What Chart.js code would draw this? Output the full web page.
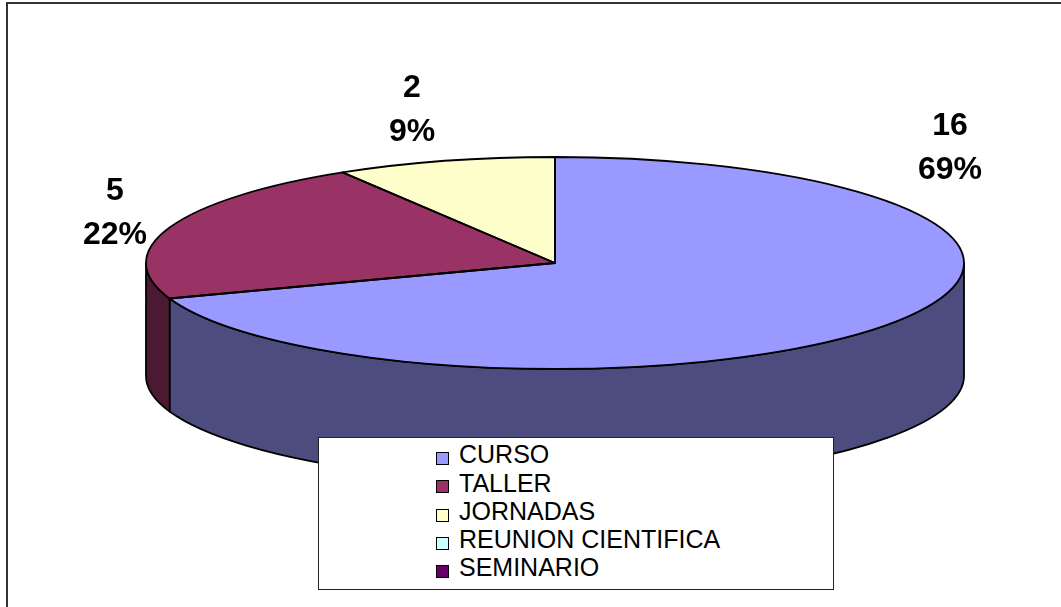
<!DOCTYPE html>
<html>
<head>
<meta charset="utf-8">
<script src="https://cdn.jsdelivr.net/npm/chart.js@4.4.1/dist/chart.umd.min.js"></script>
<style>
  html, body { margin:0; padding:0; background:#fff; }
  #wrap { position:relative; width:1061px; height:607px; overflow:hidden; }
  #c { position:absolute; left:0; top:0; }
  #frameL { position:absolute; left:6px; top:2px; width:2px; height:605px; background:#333; }
  #frameT { position:absolute; left:6px; top:2px; width:1055px; height:2px; background:#333; }
  #legend { position:absolute; left:318px; top:437px; width:516px; height:153px; border:1px solid #222; background:#fff; box-sizing:border-box; font-family:"Liberation Sans", Arial, sans-serif; font-size:25px; color:#000; }
  .sw { position:absolute; width:13px; height:13px; box-sizing:border-box; border:1px solid #000; }
  .lt { position:absolute; line-height:28px; white-space:nowrap; }
</style>
</head>
<body>
<div id="wrap">
  <canvas id="c" width="1061" height="607"></canvas>
  <div id="frameL"></div>
  <div id="frameT"></div>
  <div id="legend"></div>
</div>
<script>
// ---- data ----
const categories = ['CURSO', 'TALLER', 'JORNADAS', 'REUNION CIENTIFICA', 'SEMINARIO'];
const values = [16, 5, 2, 0, 0];
const percentLabels = ['69%', '22%', '9%', '0%', '0%'];
const colors = ['#9999FF', '#993366', '#FFFFCC', '#CCFFFF', '#660066'];

// ---- layout (not data) ----
const GEO = { cx: 555, cy: 263, rx: 409, ry: 106, depth: 113 };
const LABEL_POS = [ { x: 950, y: 135 }, { x: 115, y: 200 }, { x: 412, y: 97 } ];
const LABEL_LINE = 43.5;

function shade(hex) {
  const n = parseInt(hex.slice(1), 16);
  const r = ((n >> 16) & 255) >> 1, g = ((n >> 8) & 255) >> 1, b = (n & 255) >> 1;
  return 'rgb(' + r + ',' + g + ',' + b + ')';
}

const pie3d = {
  id: 'pie3d',
  beforeDatasetsDraw(chart) {
    const ctx = chart.ctx;
    const arcs = chart.getDatasetMeta(0).data;
    const { cx, cy, rx, ry, depth } = GEO;
    ctx.save();
    ctx.lineWidth = 1.8;
    ctx.strokeStyle = '#000';
    ctx.lineJoin = 'round';
    arcs.forEach((arc, i) => {
      const p = arc.getProps(['startAngle', 'endAngle'], true);
      const b1 = Math.max(p.startAngle, 0), b2 = Math.min(p.endAngle, Math.PI);
      if (b2 <= b1) return;
      ctx.beginPath();
      ctx.ellipse(cx, cy, rx, ry, 0, b1, b2);
      ctx.lineTo(cx + rx * Math.cos(b2), cy + depth + ry * Math.sin(b2));
      ctx.ellipse(cx, cy + depth, rx, ry, 0, b2, b1, true);
      ctx.closePath();
      ctx.fillStyle = shade(colors[i]);
      ctx.fill();
      ctx.stroke();
    });
    ctx.restore();
    // map the library's circular pie onto the top ellipse
    const a0 = arcs[0];
    const r = a0.outerRadius;
    ctx.save();
    ctx.translate(cx, cy);
    ctx.scale(rx / r, ry / r);
    ctx.translate(-a0.x, -a0.y);
  },
  afterDatasetsDraw(chart) {
    const ctx = chart.ctx;
    ctx.restore();
    const arcs = chart.getDatasetMeta(0).data;
    const { cx, cy, rx, ry } = GEO;
    ctx.save();
    ctx.lineWidth = 1.8;
    ctx.strokeStyle = '#000';
    ctx.lineJoin = 'round';
    arcs.forEach((arc) => {
      const p = arc.getProps(['startAngle', 'endAngle'], true);
      if (p.endAngle - p.startAngle <= 0) return;
      ctx.beginPath();
      ctx.moveTo(cx, cy);
      ctx.lineTo(cx + rx * Math.cos(p.startAngle), cy + ry * Math.sin(p.startAngle));
      ctx.ellipse(cx, cy, rx, ry, 0, p.startAngle, p.endAngle);
      ctx.closePath();
      ctx.stroke();
    });
    // data labels
    ctx.fillStyle = '#000';
    ctx.font = 'bold 32px "Liberation Sans", Arial, sans-serif';
    ctx.textAlign = 'center';
    ctx.textBaseline = 'alphabetic';
    values.forEach((v, i) => {
      if (!v || !LABEL_POS[i]) return;
      const pos = LABEL_POS[i];
      ctx.fillText(String(v), pos.x, pos.y);
      ctx.fillText(percentLabels[i], pos.x, pos.y + LABEL_LINE);
    });
    ctx.restore();
  }
};

new Chart(document.getElementById('c'), {
  type: 'pie',
  data: {
    labels: categories,
    datasets: [{
      data: values,
      backgroundColor: colors,
      borderWidth: 0,
      clip: false
    }]
  },
  options: {
    responsive: false,
    animation: false,
    events: [],
    layout: { padding: 0 },
    plugins: { legend: { display: false }, tooltip: { enabled: false } }
  },
  plugins: [pie3d]
});

// ---- legend (HTML text) ----
const legend = document.getElementById('legend');
categories.forEach((name, i) => {
  const rowBase = 463 + i * 28.25 - 437; // baseline relative to legend box
  const sw = document.createElement('div');
  sw.className = 'sw';
  sw.style.left = (435 - 318) + 'px';
  sw.style.top = (rowBase - 12) + 'px';
  sw.style.background = colors[i];
  legend.appendChild(sw);
  const t = document.createElement('div');
  t.className = 'lt';
  t.textContent = name;
  t.style.left = (458 - 318) + 'px';
  t.style.top = (rowBase - 22.6 - 1) + 'px';
  legend.appendChild(t);
});
</script>
</body>
</html>
